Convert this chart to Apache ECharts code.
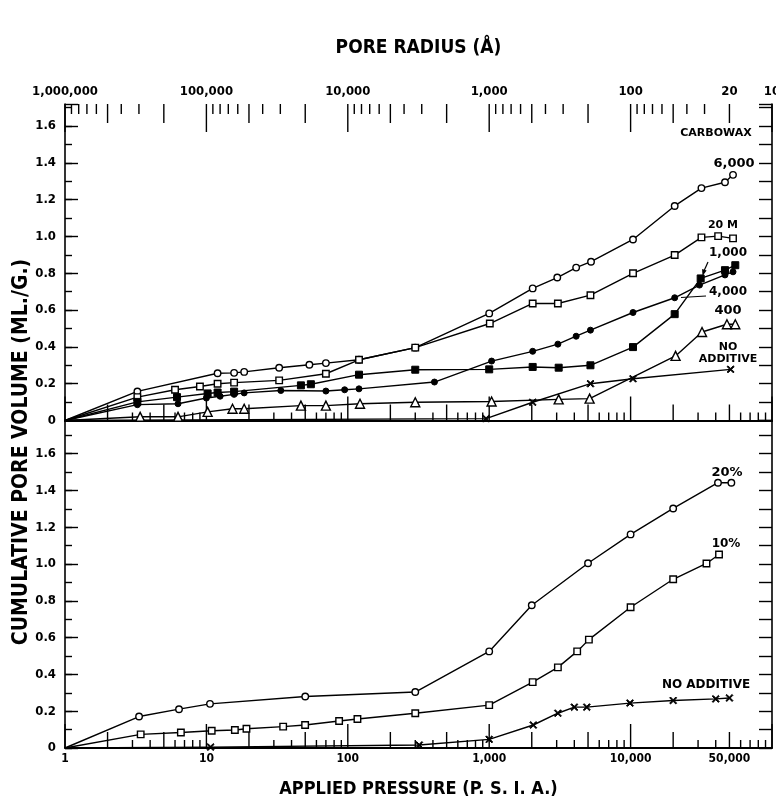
<!DOCTYPE html>
<html>
<head>
<meta charset="utf-8">
<script src="https://cdn.jsdelivr.net/npm/echarts@6/dist/echarts.min.js"></script>
<style>html,body{margin:0;padding:0;background:#fff}#c{width:776px;height:798px}</style>
</head>
<body>
<div id="c"></div>
<script>
// ---------- axis tick / label data ----------
const pressureDecades = [1, 10, 100, 1000, 10000, 100000];
const radiusDecades = [10, 100, 1000, 10000, 100000, 1000000];
const minorMultipliers = [2, 3, 4, 5, 6, 7, 8, 9];
const pressureLabels = [1, 10, 100, 1000, 10000, 50000];
const radiusLabels = [1000000, 100000, 10000, 1000, 100, 20, 10];
const yLabelValues = [0, 0.2, 0.4, 0.6, 0.8, 1.0, 1.2, 1.4, 1.6];

// ---------- top panel: Carbowax additives [pressure psia, cumulative pore volume ml/g] ----------
const carbowax6000 = [[1,0],[3.25,0.158],[12,0.257],[15.7,0.259],[18.5,0.264],[32.7,0.287],[53.5,0.303],[70,0.312],[120,0.330],[300,0.396],[1000,0.582],[2030,0.718],[3030,0.777],[4120,0.831],[5250,0.863],[10400,0.984],[20500,1.166],[31700,1.263],[46500,1.295],[53000,1.335]];
const carbowax20M = [[1,0],[3.25,0.127],[6,0.167],[9,0.185],[12,0.200],[15.7,0.206],[32.7,0.218],[70,0.254],[120,0.330],[300,0.396],[1010,0.527],[2030,0.636],[3060,0.636],[5200,0.681],[10400,0.800],[20500,0.899],[31700,0.995],[41600,1.002],[53000,0.990]];
const carbowax1000 = [[1,0],[3.25,0.101],[6.2,0.127],[10.2,0.147],[12,0.152],[15.7,0.157],[46.6,0.191],[54.8,0.197],[120,0.249],[300,0.276],[1000,0.278],[2030,0.291],[3100,0.287],[5200,0.300],[10400,0.399],[20500,0.578],[31300,0.772],[46500,0.817],[55000,0.844]];
const carbowax4000 = [[1,0],[3.25,0.086],[6.3,0.091],[10,0.122],[12.5,0.132],[15.7,0.142],[18.5,0.150],[33.6,0.163],[70,0.160],[95,0.167],[120,0.172],[410,0.209],[1040,0.323],[2030,0.376],[3060,0.415],[4120,0.458],[5200,0.491],[10400,0.587],[20500,0.667],[30700,0.736],[46500,0.791],[53000,0.808]];
const carbowax400 = [[1,0],[3.4,0.020],[6.3,0.020],[10.2,0.047],[15.3,0.064],[18.5,0.064],[46.6,0.081],[70,0.081],[122,0.091],[300,0.099],[1040,0.103],[3100,0.115],[5130,0.119],[20800,0.351],[32000,0.481],[48000,0.523],[55000,0.523]];
const noAdditiveTop = [[1,0],[950,0.010],[2030,0.099],[5200,0.200],[10400,0.227],[51000,0.278]];

// ---------- bottom panel ----------
const pct20 = [[1,0],[3.34,0.171],[6.4,0.211],[10.6,0.240],[50,0.280],[300,0.304],[1000,0.525],[2000,0.776],[5000,1.004],[10000,1.161],[20000,1.302],[41500,1.442],[51600,1.442]];
const pct10 = [[1,0],[3.43,0.074],[6.6,0.084],[10.9,0.094],[15.9,0.098],[19.2,0.105],[34.9,0.116],[49.9,0.125],[86.8,0.147],[117,0.158],[300,0.189],[1000,0.233],[2030,0.358],[3060,0.438],[4190,0.525],[5070,0.589],[10000,0.765],[20000,0.917],[34400,1.003],[42200,1.052]];
const noAdditiveBottom = [[1,0],[10.7,0.005],[320,0.016],[1000,0.047],[2050,0.125],[3060,0.189],[4000,0.222],[4900,0.222],[9900,0.244],[20000,0.258],[40000,0.267],[50000,0.272]];

const TOP_MAX = 1.72, BOT_MAX = 1.78;
const COND = '"DejaVu Sans Condensed", "Liberation Sans", sans-serif';
const LET = '"DejaVu Sans", sans-serif';

function withCommas(v){ return String(v).replace(/\B(?=(\d{3})+(?!\d))/g, ','); }
function mantissa(v){ const e = Math.floor(Math.log10(v) + 1e-9); return Math.round(v / Math.pow(10, e)); }
function ticksFrom(decades){
  const out = decades.slice();
  decades.slice(0, -1).forEach(d => minorMultipliers.forEach(m => out.push(m * d)));
  return out;
}
const pressureTicks = ticksFrom(pressureDecades);
const radiusTicks = ticksFrom(radiusDecades);

const XPATH = 'path://M0,1.2L1.2,0L5,3.8L8.8,0L10,1.2L6.2,5L10,8.8L8.8,10L5,6.2L1.2,10L0,8.8L3.8,5Z';
const OPEN = {color:'#fff', borderColor:'#000', borderWidth:1.4};
const FILLED = {color:'#000', borderColor:'#000', borderWidth:1};

function lineSeries(name, pts, xi, yi, symbol, size, style){
  return {
    name, type:'line', xAxisIndex:xi, yAxisIndex:yi, symbol, symbolSize:size,
    data: pts.map((p, i) => i === 0 ? {value:p, symbol:'none'} : p),
    lineStyle:{color:'#000', width:1.4}, itemStyle:style, z:5, animation:false,
    emphasis:{disabled:true}
  };
}
function tickSeries(xi, yi, values, yVal, dir, lenFn){
  return {
    type:'custom', xAxisIndex:xi, yAxisIndex:yi, silent:true, clip:false, z:4, animation:false,
    data: values.map(v => [v, yVal]),
    renderItem: (params, api) => {
      const v = api.value(0); const p = api.coord([v, api.value(1)]); const L = lenFn(v);
      return {type:'line', shape:{x1:p[0], y1:p[1], x2:p[0], y2:p[1] + dir * L}, style:{stroke:'#000', lineWidth:1.4}};
    }
  };
}
function labelSeries(xi, yi, values, yVal, dy, font){
  return {
    type:'custom', xAxisIndex:xi, yAxisIndex:yi, silent:true, clip:false, z:4, animation:false,
    data: values.map(v => [v, yVal]),
    renderItem: (params, api) => {
      const v = api.value(0); const p = api.coord([v, api.value(1)]);
      return {type:'text', x:p[0], y:p[1] + dy, style:{text:withCommas(v), align:'center', verticalAlign:'middle', font, fill:'#000'}};
    }
  };
}
const pLen = v => { const m = mantissa(v); return m === 1 ? 24 : (m === 2 || m === 5) ? 16 : 8; };
const rLen = v => { const m = mantissa(v); return m === 1 ? 28 : (m === 2 || m === 5) ? 19 : 10; };

function yAxes(gi, max){
  const fmt = v => {
    const ok = yLabelValues.some(t => Math.abs(t - v) < 1e-6);
    return ok ? (Math.abs(v) < 1e-9 ? '0' : v.toFixed(1)) : '';
  };
  return [
    {type:'value', gridIndex:gi, min:0, max, interval:0.1, position:'left',
     axisLine:{show:true, lineStyle:{color:'#000', width:1.6}},
     axisTick:{show:true, inside:true, length:7, lineStyle:{color:'#000', width:1.4}},
     axisLabel:{show:true, formatter:fmt, margin:9, color:'#000', fontFamily:COND, fontWeight:'bold', fontSize:13, showMaxLabel:false},
     splitLine:{show:false}},
    {type:'value', gridIndex:gi, min:0, max, interval:0.2, position:'left',
     axisLine:{show:false}, axisTick:{show:true, inside:true, length:13, lineStyle:{color:'#000', width:1.4}},
     axisLabel:{show:false}, splitLine:{show:false}},
    {type:'value', gridIndex:gi, min:0, max, interval:0.1, position:'right',
     axisLine:{show:true, lineStyle:{color:'#000', width:1.6}},
     axisTick:{show:true, inside:true, length:13, lineStyle:{color:'#000', width:1.4}},
     axisLabel:{show:false}, splitLine:{show:false}}
  ];
}

const chart = echarts.init(document.getElementById('c'), null, {renderer:'canvas'});
const option = {
  backgroundColor:'#fff',
  animation:false,
  grid:[
    {left:65, right:4, top:104, height:316.5, containLabel:false, outerBoundsMode:'none'},
    {left:65, right:4, top:420.5, height:327.5, containLabel:false, outerBoundsMode:'none'}
  ],
  xAxis:[
    {type:'log', logBase:10, gridIndex:0, min:1, max:100000, position:'bottom',
     axisLine:{show:true, lineStyle:{color:'#000', width:2}}, axisTick:{show:false}, axisLabel:{show:false}, splitLine:{show:false}},
    {type:'log', logBase:10, gridIndex:0, min:10, max:1000000, inverse:true, position:'top',
     axisLine:{show:true, lineStyle:{color:'#000', width:2}}, axisTick:{show:false}, axisLabel:{show:false}, splitLine:{show:false},
     name:'PORE RADIUS (Å)', nameLocation:'middle', nameGap:46,
     nameTextStyle:{color:'#000', fontFamily:COND, fontWeight:'bold', fontSize:19}},
    {type:'log', logBase:10, gridIndex:1, min:1, max:100000, position:'bottom',
     axisLine:{show:true, lineStyle:{color:'#000', width:2}}, axisTick:{show:false}, axisLabel:{show:false}, splitLine:{show:false},
     name:'APPLIED PRESSURE (P. S. I. A.)', nameLocation:'middle', nameGap:32,
     nameTextStyle:{color:'#000', fontFamily:COND, fontWeight:'bold', fontSize:18}}
  ],
  yAxis: yAxes(0, TOP_MAX).concat(yAxes(1, BOT_MAX)),
  series:[
    lineSeries('6,000', carbowax6000, 0, 0, 'circle', 6.5, OPEN),
    lineSeries('20 M', carbowax20M, 0, 0, 'rect', 6.5, OPEN),
    lineSeries('1,000', carbowax1000, 0, 0, 'rect', 7, FILLED),
    lineSeries('4,000', carbowax4000, 0, 0, 'circle', 6, FILLED),
    lineSeries('400', carbowax400, 0, 0, 'triangle', 9, OPEN),
    lineSeries('NO ADDITIVE', noAdditiveTop, 0, 0, XPATH, 7, FILLED),
    lineSeries('20%', pct20, 2, 3, 'circle', 6.5, OPEN),
    lineSeries('10%', pct10, 2, 3, 'rect', 6.5, OPEN),
    lineSeries('NO ADDITIVE ', noAdditiveBottom, 2, 3, XPATH, 7, FILLED),
    tickSeries(0, 0, pressureTicks, 0, -1, pLen),
    tickSeries(1, 0, radiusTicks, TOP_MAX, 1, rLen),
    tickSeries(2, 3, pressureTicks, 0, -1, pLen),
    labelSeries(1, 0, radiusLabels, TOP_MAX, -12, 'bold 13px ' + COND),
    labelSeries(2, 3, pressureLabels, 0, 11, 'bold 12px ' + COND)
  ],
  graphic:[
    {type:'text', x:22, y:452, rotation:Math.PI/2, style:{text:'CUMULATIVE PORE VOLUME (ML./G.)', x:0, y:0, align:'center', verticalAlign:'middle', font:'bold 21px ' + COND, fill:'#000'}},
    {type:'text', x:716, y:133, style:{text:'CARBOWAX', align:'center', verticalAlign:'middle', font:'bold 11px ' + LET, fill:'#000'}},
    {type:'text', x:734, y:164, style:{text:'6,000', align:'center', verticalAlign:'middle', font:'bold 13px ' + LET, fill:'#000'}},
    {type:'text', x:723, y:225, style:{text:'20 M', align:'center', verticalAlign:'middle', font:'bold 11px ' + LET, fill:'#000'}},
    {type:'text', x:728, y:253, style:{text:'1,000', align:'center', verticalAlign:'middle', font:'bold 12px ' + LET, fill:'#000'}},
    {type:'text', x:728, y:292, style:{text:'4,000', align:'center', verticalAlign:'middle', font:'bold 12px ' + LET, fill:'#000'}},
    {type:'text', x:728, y:311, style:{text:'400', align:'center', verticalAlign:'middle', font:'bold 13px ' + LET, fill:'#000'}},
    {type:'text', x:728, y:347, style:{text:'NO', align:'center', verticalAlign:'middle', font:'bold 11px ' + LET, fill:'#000'}},
    {type:'text', x:728, y:359, style:{text:'ADDITIVE', align:'center', verticalAlign:'middle', font:'bold 11px ' + LET, fill:'#000'}},
    {type:'text', x:727, y:473, style:{text:'20%', align:'center', verticalAlign:'middle', font:'bold 13px ' + LET, fill:'#000'}},
    {type:'text', x:726, y:544, style:{text:'10%', align:'center', verticalAlign:'middle', font:'bold 12px ' + LET, fill:'#000'}},
    {type:'text', x:706, y:685, style:{text:'NO ADDITIVE', align:'center', verticalAlign:'middle', font:'bold 12px ' + LET, fill:'#000'}},
    {type:'line', shape:{x1:708, y1:262, x2:703.5, y2:272}, style:{stroke:'#000', lineWidth:1.2}},
    {type:'polygon', shape:{points:[[702.5,276],[706.6,270.6],[702.1,269]]}, style:{fill:'#000'}},
    {type:'line', shape:{x1:706, y1:296, x2:681, y2:297.5}, style:{stroke:'#000', lineWidth:1.2}}
  ]
};
chart.setOption(option);
</script>
</body>
</html>
